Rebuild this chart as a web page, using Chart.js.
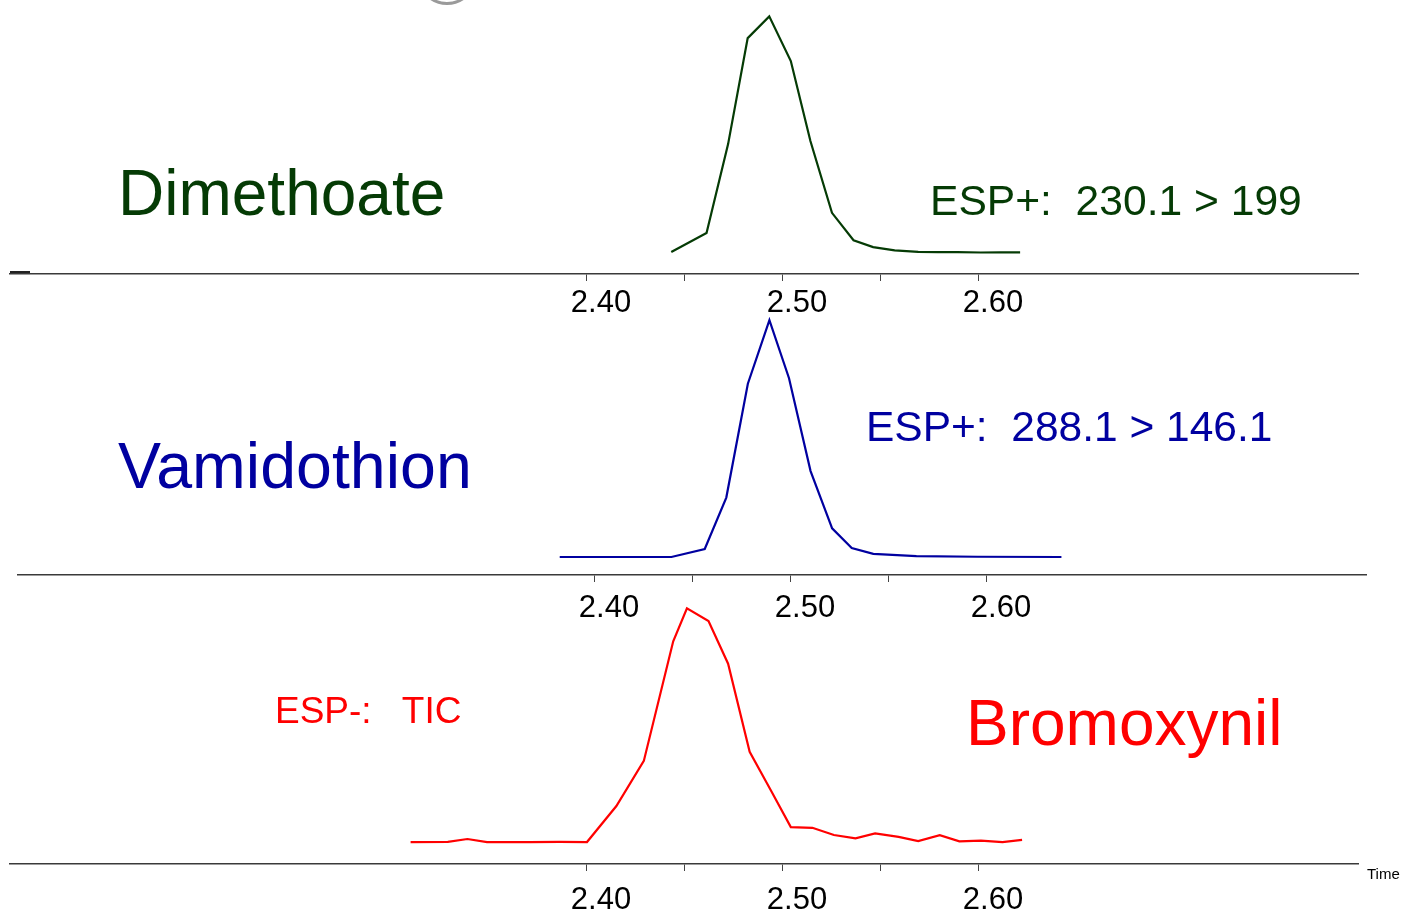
<!DOCTYPE html>
<html>
<head>
<meta charset="utf-8">
<script src="https://cdn.jsdelivr.net/npm/chart.js@4.4.0/dist/chart.umd.min.js"></script>
<style>
  html, body { margin: 0; padding: 0; background: #fff; overflow: hidden; }
  body { width: 1401px; height: 913px; position: relative; font-family: "Liberation Sans", Arial, sans-serif; }
  canvas { position: absolute; }
  .lbl { position: absolute; line-height: 1; white-space: pre; }
  .ring { position: absolute; left: 417px; top: -55px; width: 60px; height: 60px; box-sizing: border-box;
          border: 3px solid #9a9a9a; border-radius: 50%; }
  .stub { position: absolute; left: 10px; top: 271px; width: 20px; height: 2px; background: #222; }
</style>
</head>
<body>
<div class="ring"></div>
<div class="stub"></div>

<canvas id="dimethoate" width="1401" height="330" style="left:0;top:0"></canvas>
<canvas id="vamidothion" width="1401" height="331" style="left:8px;top:300px"></canvas>
<canvas id="bromoxynil" width="1401" height="330" style="left:0;top:590px"></canvas>

<div class="lbl" style="left:118px;top:161px;font-size:64px;color:#053b05">Dimethoate</div>
<div class="lbl" style="left:930px;top:179px;font-size:42.6px;color:#053b05">ESP+:  230.1 &gt; 199</div>
<div class="lbl" style="left:118px;top:434px;font-size:64.5px;color:#0000a0">Vamidothion</div>
<div class="lbl" style="left:866px;top:406px;font-size:42.5px;color:#0000a0">ESP+:  288.1 &gt; 146.1</div>
<div class="lbl" style="left:275px;top:692px;font-size:37px;color:#ff0000">ESP-:   TIC</div>
<div class="lbl" style="left:966px;top:691px;font-size:64px;color:#ff0000">Bromoxynil</div>
<div class="lbl" style="left:1367px;top:866px;font-size:15px;color:#000">Time</div>

<script>
// retention time axis (min) shared by the three traces
const timeMin = 2.1056;
const timeMax = 2.7934;
const tickValues = [2.40, 2.45, 2.50, 2.55, 2.60];

// Dimethoate, ESP+ 230.1 > 199 (relative intensity, %)
const dimethoateTime = [2.443, 2.461, 2.472, 2.482, 2.493, 2.504, 2.514, 2.525, 2.536,
                        2.546, 2.557, 2.569, 2.579, 2.589, 2.601, 2.611, 2.621];
const dimethoateIntensity = [0.2, 8.3, 45.9, 90.8, 100, 81.1, 47.2, 16.8, 5.2,
                             2.3, 0.9, 0.3, 0.2, 0.2, 0, 0.1, 0.1];

// Vamidothion, ESP+ 288.1 > 146.1
const vamidothionTime = [2.382, 2.392, 2.403, 2.414, 2.425, 2.439, 2.456, 2.467, 2.478,
                         2.489, 2.499, 2.510, 2.521, 2.531, 2.542, 2.564, 2.595, 2.638];
const vamidothionIntensity = [0, 0, 0, 0, 0, 0, 3.4, 25.1, 73.2,
                              100, 75.5, 36.3, 12.1, 3.8, 1.3, 0.4, 0.1, 0];

// Bromoxynil, ESP- TIC
const bromoxynilTime = [2.310, 2.329, 2.339, 2.349, 2.360, 2.371, 2.386, 2.400, 2.415,
                        2.429, 2.444, 2.451, 2.462, 2.472, 2.483, 2.494, 2.504, 2.515,
                        2.526, 2.537, 2.547, 2.559, 2.569, 2.580, 2.590, 2.601, 2.612, 2.622];
const bromoxynilIntensity = [0, 0.1, 1.3, 0, 0, 0, 0.1, 0, 15.4,
                             34.7, 85.9, 100, 94.6, 76.3, 38.6, 21.8, 6.4, 6.1,
                             3.0, 1.6, 3.7, 2.2, 0.4, 2.9, 0.3, 0.6, 0, 0.9];

const fontFamily = '"Liberation Sans", Arial, sans-serif';

function drawTrace(id, times, values, color, yMin, yMax, padTop, labelPad) {
    const ctx = document.getElementById(id).getContext('2d');
    return new Chart(ctx, {
        type: 'line',
        data: {
            datasets: [{
                data: times.map((t, i) => ({ x: t, y: values[i] })),
                borderColor: color,
                borderWidth: 2.2,
                pointRadius: 0,
                tension: 0,
                fill: false
            }]
        },
        options: {
            responsive: false,
            animation: false,
            devicePixelRatio: 1,
            events: [],
            layout: { padding: { left: 10, right: 43, top: padTop, bottom: 0 } },
            plugins: { legend: { display: false }, tooltip: { enabled: false } },
            scales: {
                x: {
                    type: 'linear',
                    min: timeMin,
                    max: timeMax,
                    afterBuildTicks: scale => { scale.ticks = tickValues.map(v => ({ value: v })); },
                    afterFit: scale => { scale.height = 56; },
                    grid: { display: true, drawOnChartArea: false, drawTicks: true, tickLength: 7, color: '#444', lineWidth: 1 },
                    border: { display: true, color: '#3a3a3a', width: 1.5 },
                    ticks: {
                        autoSkip: false,
                        maxRotation: 0,
                        labelOffset: 14,
                        padding: labelPad,
                        color: '#000',
                        font: { family: fontFamily, size: 31 },
                        callback: v => Math.round(v * 100) % 10 === 0 ? v.toFixed(2) : ''
                    }
                },
                y: { display: false, min: yMin, max: yMax }
            }
        }
    });
}

drawTrace('dimethoate', dimethoateTime, dimethoateIntensity, '#053b05', -9.1, 104.4, 6, 4);
drawTrace('vamidothion', vamidothionTime, vamidothionIntensity, '#0000a0', -7.6, 103.9, 11, 8);
drawTrace('bromoxynil', bromoxynilTime, bromoxynilIntensity, '#ff0000', -9.4, 104.0, 9, 11);
</script>
</body>
</html>
